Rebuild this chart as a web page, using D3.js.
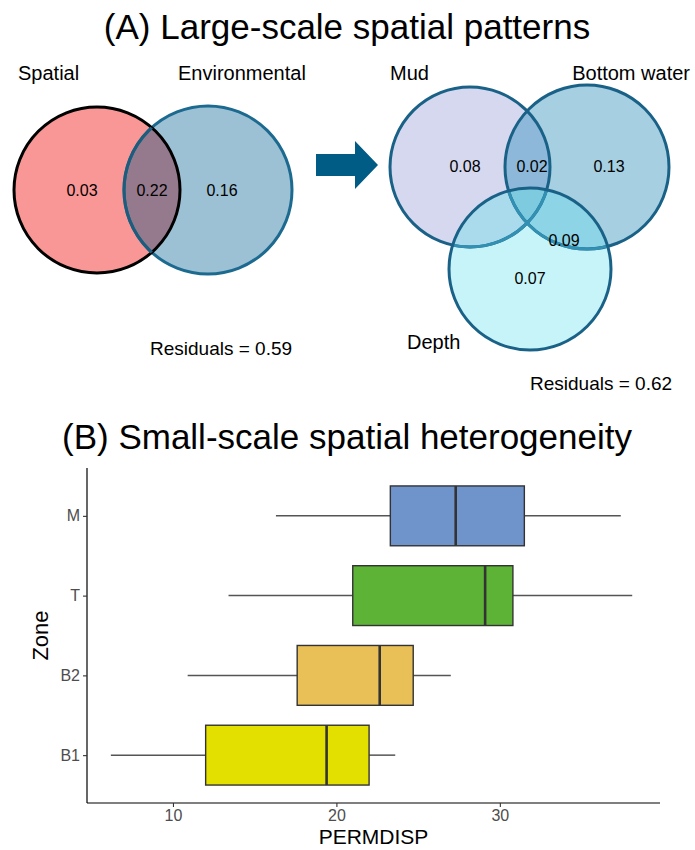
<!DOCTYPE html>
<html><head><meta charset="utf-8">
<script src="https://cdn.jsdelivr.net/npm/d3@7"></script>
<style>body{margin:0;background:#fff}svg{display:block;font-family:"Liberation Sans",Arial,sans-serif}</style>
</head><body><svg id="c" width="695" height="850"></svg>
<script>
// ---- data ----
const titles = ["(A) Large-scale spatial patterns", "(B) Small-scale spatial heterogeneity"];
const venn2Sets = ["Spatial", "Environmental"];
const venn2Values = [0.03, 0.22, 0.16];           // Spatial only, shared, Environmental only
const venn3Sets = ["Mud", "Bottom water", "Depth"];
const venn3Values = [0.08, 0.02, 0.13, 0.09, 0.07]; // Mud, Mud∩BW, BW, BW∩Depth, Depth
const residuals = [0.59, 0.62];

const zones = ["B1", "B2", "T", "M"];
const whiskerLow = [6.2, 10.9, 13.4, 16.3];
const q1 = [12.0, 17.6, 21.0, 23.3];
const medians = [19.4, 22.65, 29.1, 27.3];
const q3 = [22.0, 24.7, 30.8, 31.5];
const whiskerHigh = [23.6, 27.0, 38.1, 37.4];
const zoneColors = ["#e3e000", "#e9bf58", "#5cb336", "#6f94cc"];
const xTicks = [10, 20, 30];
const xLabel = "PERMDISP", yLabel = "Zone";

const svg = d3.select("#c");
const defs = svg.append("defs");
const fmt = d3.format(".2f");

// titles
svg.append("text").attr("x", 347).attr("y", 39).attr("text-anchor", "middle")
  .attr("font-size", 35).text(titles[0]);
svg.append("text").attr("x", 347).attr("y", 449).attr("text-anchor", "middle")
  .attr("font-size", 35).text(titles[1]);

// ---- Venn 2 ----
const c2 = [{cx: 97, cy: 190, r: 83}, {cx: 208, cy: 190, r: 84}];
c2.forEach((c, i) => defs.append("clipPath").attr("id", "v2c" + i)
  .append("circle").attr("cx", c.cx).attr("cy", c.cy).attr("r", c.r));
const g2 = svg.append("g");
g2.append("circle").attr("cx", c2[0].cx).attr("cy", c2[0].cy).attr("r", c2[0].r).attr("fill", "#f99797");
g2.append("circle").attr("cx", c2[1].cx).attr("cy", c2[1].cy).attr("r", c2[1].r).attr("fill", "#9cc1d5");
g2.append("circle").attr("cx", c2[0].cx).attr("cy", c2[0].cy).attr("r", c2[0].r)
  .attr("clip-path", "url(#v2c1)").attr("fill", "#957a8e");
g2.append("circle").attr("cx", c2[1].cx).attr("cy", c2[1].cy).attr("r", c2[1].r)
  .attr("fill", "none").attr("stroke", "#1c6a8f").attr("stroke-width", 3);
g2.append("circle").attr("cx", c2[0].cx).attr("cy", c2[0].cy).attr("r", c2[0].r)
  .attr("fill", "none").attr("stroke", "#000").attr("stroke-width", 3);
g2.append("circle").attr("cx", c2[1].cx).attr("cy", c2[1].cy).attr("r", c2[1].r)
  .attr("clip-path", "url(#v2c0)").attr("fill", "none").attr("stroke", "#1c5d7e").attr("stroke-width", 3);
const v2pos = [[82, 190], [152, 190], [222, 190]];
venn2Values.forEach((v, i) => g2.append("text").attr("x", v2pos[i][0]).attr("y", v2pos[i][1])
  .attr("dy", "0.35em").attr("text-anchor", "middle").attr("font-size", 16).text(fmt(v)));
g2.append("text").attr("x", 18).attr("y", 80).attr("font-size", 20).text(venn2Sets[0]);
g2.append("text").attr("x", 178).attr("y", 80).attr("font-size", 20).text(venn2Sets[1]);
svg.append("text").attr("x", 150).attr("y", 355).attr("font-size", 19).text("Residuals = " + fmt(residuals[0]));

// arrow
svg.append("path").attr("d", "M316,154 L355,154 L355,141 L378,165 L355,189 L355,176 L316,176 Z")
  .attr("fill", "#005b85");

// ---- Venn 3 ----
const c3 = [{cx: 470, cy: 167, r: 80}, {cx: 587, cy: 167, r: 82}, {cx: 530, cy: 269, r: 81}];
c3.forEach((c, i) => defs.append("clipPath").attr("id", "v3c" + i)
  .append("circle").attr("cx", c.cx).attr("cy", c.cy).attr("r", c.r));
const g3 = svg.append("g");
const circ = (g, c) => g.append("circle").attr("cx", c.cx).attr("cy", c.cy).attr("r", c.r);
circ(g3, c3[0]).attr("fill", "#d5d8ee");
circ(g3, c3[1]).attr("fill", "#a6cfe1");
circ(g3, c3[2]).attr("fill", "#c6f4f9");
circ(g3, c3[0]).attr("clip-path", "url(#v3c1)").attr("fill", "#8db8d9");
circ(g3, c3[0]).attr("clip-path", "url(#v3c2)").attr("fill", "#a9dbec");
circ(g3, c3[1]).attr("clip-path", "url(#v3c2)").attr("fill", "#8dd4e6");
circ(g3.append("g").attr("clip-path", "url(#v3c1)"), c3[0]).attr("clip-path", "url(#v3c2)").attr("fill", "#7ecbe0");
circ(g3, c3[0]).attr("fill", "none").attr("stroke", "#1a6187").attr("stroke-width", 3);
circ(g3, c3[1]).attr("fill", "none").attr("stroke", "#1a6187").attr("stroke-width", 3);
circ(g3, c3[0]).attr("clip-path", "url(#v3c2)").attr("fill", "none").attr("stroke", "#3290b3").attr("stroke-width", 3);
circ(g3, c3[1]).attr("clip-path", "url(#v3c2)").attr("fill", "none").attr("stroke", "#3290b3").attr("stroke-width", 3);
circ(g3, c3[2]).attr("fill", "none").attr("stroke", "#1a6187").attr("stroke-width", 3);
const v3pos = [[465, 166], [532, 166], [609, 166], [564, 240], [530, 278]];
venn3Values.forEach((v, i) => g3.append("text").attr("x", v3pos[i][0]).attr("y", v3pos[i][1])
  .attr("dy", "0.35em").attr("text-anchor", "middle").attr("font-size", 16).text(fmt(v)));
g3.append("text").attr("x", 390).attr("y", 80).attr("font-size", 20).text(venn3Sets[0]);
g3.append("text").attr("x", 690).attr("y", 80).attr("text-anchor", "end").attr("font-size", 20).text(venn3Sets[1]);
g3.append("text").attr("x", 407).attr("y", 349).attr("font-size", 20).text(venn3Sets[2]);
svg.append("text").attr("x", 530).attr("y", 390).attr("font-size", 19).text("Residuals = " + fmt(residuals[1]));

// ---- Boxplot ----
const L = 87, R = 660, T = 468, B = 803;
const x = d3.scaleLinear().domain([4.74, 39.8]).range([L, R]);
const y = d3.scalePoint().domain(zones).range([B, T]).padding(0.6);
const bh = y.step() * 0.75;
const gb = svg.append("g");
zones.forEach((z, i) => {
  const yc = y(z);
  gb.append("line").attr("x1", x(whiskerLow[i])).attr("x2", x(q1[i])).attr("y1", yc).attr("y2", yc)
    .attr("stroke", "#555").attr("stroke-width", 1.5);
  gb.append("line").attr("x1", x(q3[i])).attr("x2", x(whiskerHigh[i])).attr("y1", yc).attr("y2", yc)
    .attr("stroke", "#555").attr("stroke-width", 1.5);
  gb.append("rect").attr("x", x(q1[i])).attr("width", x(q3[i]) - x(q1[i]))
    .attr("y", yc - bh / 2).attr("height", bh).attr("fill", zoneColors[i])
    .attr("stroke", "#333").attr("stroke-width", 1.4);
  gb.append("line").attr("x1", x(medians[i])).attr("x2", x(medians[i]))
    .attr("y1", yc - bh / 2).attr("y2", yc + bh / 2).attr("stroke", "#333").attr("stroke-width", 2.6);
});
const xa = svg.append("g").attr("transform", `translate(0,${B})`)
  .call(d3.axisBottom(x).tickValues(xTicks).tickSize(4).tickPadding(3));
const ya = svg.append("g").attr("transform", `translate(${L},0)`)
  .call(d3.axisLeft(y).tickSize(4).tickPadding(3));
[xa, ya].forEach(a => {
  a.select(".domain").attr("stroke", "#000").attr("stroke-width", 1.2);
  a.selectAll(".tick line").attr("stroke", "#333").attr("stroke-width", 1.1);
  a.selectAll(".tick text").attr("fill", "#4d4d4d").attr("font-size", 16)
    .attr("font-family", "Liberation Sans, Arial, sans-serif");
});
xa.select(".domain").attr("d", `M${L},0H${R}`);
ya.select(".domain").attr("d", `M0,${T}V${B}`);
svg.append("text").attr("x", (L + R) / 2).attr("y", 844).attr("text-anchor", "middle")
  .attr("font-size", 21).text(xLabel);
svg.append("text").attr("transform", `translate(48,${(T + B) / 2}) rotate(-90)`)
  .attr("text-anchor", "middle").attr("font-size", 22).text(yLabel);
</script></body></html>
